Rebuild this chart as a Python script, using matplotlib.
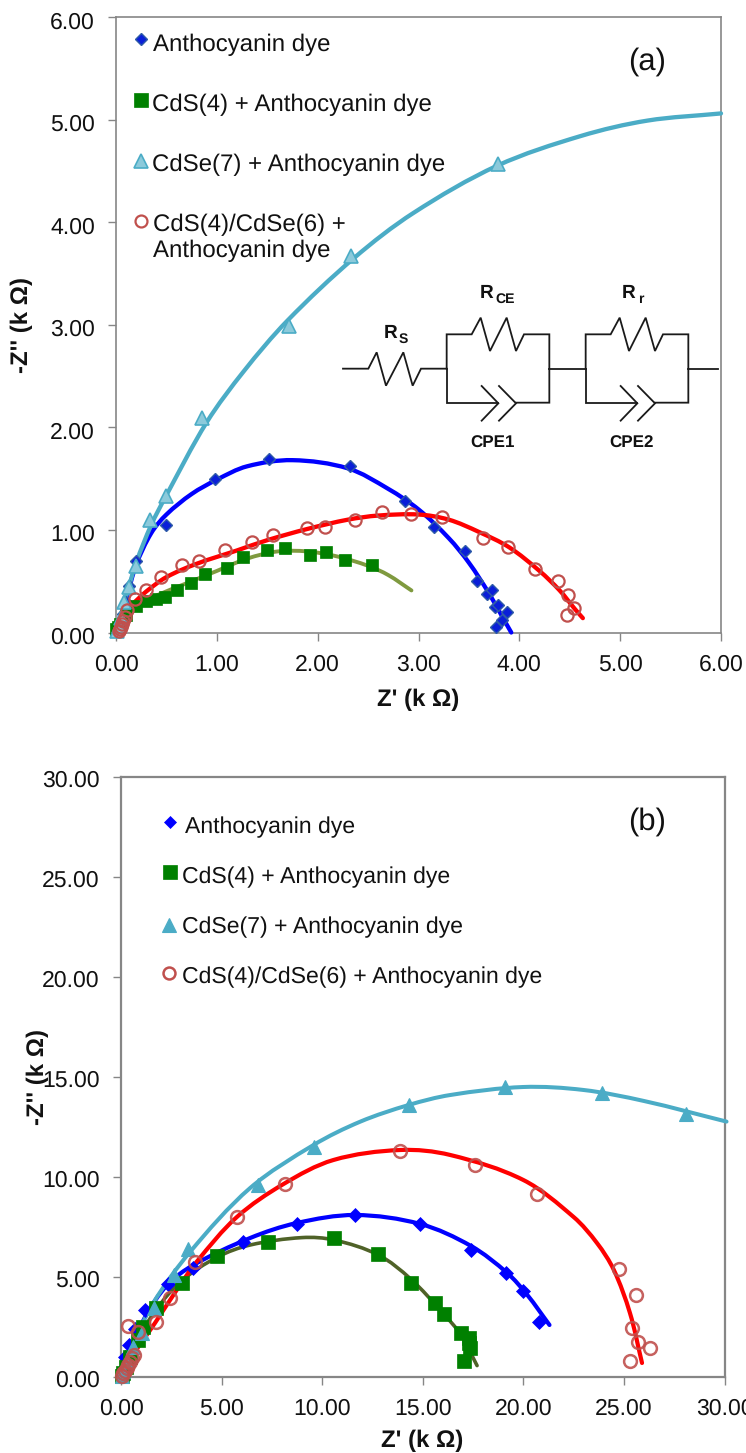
import math
import matplotlib
matplotlib.use("Agg")
import matplotlib.pyplot as plt
from matplotlib.path import Path
from matplotlib.patches import PathPatch
from matplotlib.transforms import ScaledTranslation

plt.rcParams['font.family'] = ['Liberation Sans', 'DejaVu Sans']
plt.rcParams['text.hinting'] = 'no_hinting'
plt.rcParams['text.hinting_factor'] = 1

W, H = 746, 1453
GRAY = '#868686'
BLUE = '#0000ff'
GREEN = '#008000'
CYAN = '#4bacc6'
RED = '#ff0000'
BRICK = '#c0504d'

# ---------- panel (a) markers ----------
a_blue_x = [0.02,0.04,0.07,0.10,0.13,0.20,0.50,0.98,1.52,2.32,2.87,3.15,3.46,3.58,3.68,3.73,3.76,3.79,3.88,3.83,3.77]
a_blue_y = [0.03,0.08,0.18,0.30,0.45,0.70,1.05,1.50,1.69,1.62,1.28,1.03,0.79,0.50,0.38,0.41,0.25,0.27,0.20,0.12,0.05]
a_green_x = [0.00,0.02,0.04,0.10,0.20,0.30,0.40,0.49,0.60,0.74,0.88,1.10,1.26,1.50,1.68,1.92,2.08,2.27,2.54]
a_green_y = [0.03,0.05,0.08,0.17,0.26,0.31,0.33,0.35,0.41,0.48,0.57,0.63,0.74,0.80,0.82,0.76,0.78,0.71,0.66]
a_cyan_x = [0.01,0.03,0.05,0.08,0.13,0.20,0.34,0.50,0.85,1.72,2.33,3.79]
a_cyan_y = [0.01,0.06,0.14,0.30,0.44,0.65,1.10,1.33,2.09,2.99,3.67,4.57]
a_red_x = [0.03,0.04,0.05,0.06,0.07,0.09,0.11,0.19,0.30,0.45,0.65,0.82,1.08,1.35,1.56,1.89,2.07,2.37,2.64,2.93,3.23,3.64,3.89,4.16,4.38,4.48,4.54,4.47]
a_red_y = [0.01,0.03,0.05,0.08,0.11,0.15,0.22,0.33,0.41,0.54,0.66,0.70,0.80,0.88,0.95,1.02,1.03,1.10,1.17,1.16,1.13,0.92,0.83,0.62,0.50,0.37,0.24,0.17]

# ---------- panel (a) fitted lines ----------
a_blue_lx = [0.00,0.10,0.20,0.35,0.50,0.75,1.00,1.30,1.75,2.30,2.70,3.00,3.30,3.50,3.70,3.85,3.92]
a_blue_ly = [0.00,0.32,0.66,0.97,1.15,1.35,1.49,1.62,1.68,1.60,1.40,1.20,0.92,0.68,0.38,0.12,0.00]
a_green_lx = [0.00,0.10,0.20,0.40,0.70,1.00,1.30,1.60,1.90,2.20,2.50,2.70,2.93]
a_green_ly = [0.00,0.16,0.26,0.36,0.48,0.60,0.72,0.79,0.79,0.74,0.65,0.56,0.41]
a_cyan_lx = [0.00,0.10,0.20,0.35,0.49,0.90,1.27,1.70,2.36,2.95,3.78,4.61,5.27,6.00]
a_cyan_ly = [0.00,0.35,0.68,1.05,1.32,2.05,2.55,3.04,3.65,4.09,4.55,4.84,4.99,5.06]
a_red_lx = [0.00,0.10,0.20,0.30,0.50,0.80,1.20,1.50,1.90,2.30,2.60,3.00,3.30,3.60,3.90,4.20,4.40,4.55,4.63]
a_red_ly = [0.00,0.22,0.31,0.40,0.54,0.67,0.80,0.90,1.01,1.10,1.14,1.15,1.10,0.98,0.83,0.60,0.41,0.23,0.14]

# ---------- panel (b) markers ----------
b_blue_x = [0.05,0.10,0.20,0.40,0.70,1.19,2.32,3.60,6.05,8.74,11.64,14.88,17.40,19.15,20.00,20.76]
b_blue_y = [0.10,0.40,1.00,1.60,2.40,3.35,4.65,5.45,6.75,7.65,8.10,7.65,6.35,5.20,4.30,2.77]
b_green_x = [0.03,0.10,0.25,0.45,0.86,1.11,1.72,3.05,4.76,7.30,10.60,12.80,14.43,15.60,16.05,16.90,17.30,17.36,17.30,17.04]
b_green_y = [0.03,0.20,0.50,1.00,1.85,2.50,3.45,4.70,6.05,6.75,6.95,6.15,4.70,3.70,3.15,2.20,1.95,1.45,1.70,0.80]
b_cyan_x = [0.03,0.12,0.30,0.60,1.03,1.66,2.65,3.32,6.83,9.60,14.30,19.10,23.90,28.10]
b_cyan_y = [0.03,0.30,0.80,1.50,2.20,3.45,5.10,6.40,9.60,11.50,13.60,14.50,14.20,13.15]
b_red_x = [0.03,0.10,0.18,0.28,0.37,0.45,0.55,0.66,0.33,0.86,1.72,2.44,3.68,5.76,8.16,13.85,17.60,20.70,24.75,25.60,25.40,25.70,26.30,25.30]
b_red_y = [0.03,0.20,0.32,0.45,0.60,0.77,0.95,1.10,2.57,2.27,2.77,3.95,5.75,8.00,9.65,11.30,10.60,9.15,5.40,4.10,2.45,1.77,1.43,0.80]

# ---------- panel (b) fitted lines ----------
b_blue_lx = [0.00,0.50,1.20,2.30,3.60,6.42,8.74,11.64,14.88,17.40,19.20,20.20,21.30]
b_blue_ly = [0.00,1.30,3.00,4.60,5.60,6.95,7.70,8.10,7.65,6.55,5.20,4.10,2.60]
b_green_lx = [0.00,0.50,1.70,3.00,4.80,6.42,9.00,10.60,12.80,14.40,16.00,16.90,17.70]
b_green_ly = [0.00,1.30,3.30,4.80,6.00,6.60,6.97,6.85,6.10,4.90,3.20,2.10,0.57]
b_cyan_lx = [0.00,0.60,1.60,3.43,6.42,9.57,11.90,14.30,16.37,20.00,23.00,26.00,30.10]
b_cyan_ly = [0.00,1.60,3.70,6.25,9.45,11.60,12.77,13.60,14.10,14.50,14.35,13.80,12.77]
b_red_lx = [0.00,0.60,1.69,2.77,3.77,5.76,8.08,10.56,13.88,16.37,20.00,22.50,23.66,24.50,25.30,25.90]
b_red_ly = [0.00,1.10,2.70,4.35,5.77,8.00,9.65,10.85,11.35,11.10,9.85,8.00,6.70,5.35,3.20,0.70]

a_ticks = [0, 1, 2, 3, 4, 5, 6]
b_ticks = [0, 5, 10, 15, 20, 25, 30]
labels = ['Anthocyanin dye', 'CdS(4) + Anthocyanin dye',
          'CdSe(7) + Anthocyanin dye', 'CdS(4)/CdSe(6) +\nAnthocyanin dye',
          'CdS(4)/CdSe(6) + Anthocyanin dye']


def smooth(ax, xs, ys, color, lw, z):
    """Smoothed line through the read points (screen-space tangents)."""
    to_px = ax.transData.transform
    pts = [tuple(to_px((x, y))) for x, y in zip(xs, ys)]
    verts, codes = [pts[0]], [Path.MOVETO]
    n = len(pts)

    def tangent(i):
        a, b = pts[max(i - 1, 0)], pts[min(i + 1, n - 1)]
        dx, dy = b[0] - a[0], b[1] - a[1]
        d = math.hypot(dx, dy) or 1.0
        return dx / d, dy / d

    for i in range(n - 1):
        p1, p2 = pts[i], pts[i + 1]
        h = math.hypot(p2[0] - p1[0], p2[1] - p1[1]) / 3
        t1, t2 = tangent(i), tangent(i + 1)
        verts += [(p1[0] + t1[0] * h, p1[1] + t1[1] * h),
                  (p2[0] - t2[0] * h, p2[1] - t2[1] * h), p2]
        codes += [Path.CURVE4] * 3
    ax.add_patch(PathPatch(Path(verts, codes), fc='none', ec=color, lw=lw,
                           capstyle='round', joinstyle='round', zorder=z,
                           clip_on=False, transform=None))


def make_axes(fig, l, r, t, b, ticks, spine_w, label_shift):
    ax = fig.add_axes([l / W, 1 - b / H, (r - l) / W, (b - t) / H])
    ax.set_xlim(ticks[0], ticks[-1])
    ax.set_ylim(ticks[0], ticks[-1])
    ax.set_xticks(ticks)
    ax.set_yticks(ticks)
    ax.set_xticklabels([f'{v:.2f}' for v in ticks])
    ax.set_yticklabels([f'{v:.2f}' for v in ticks])
    for s in ax.spines.values():
        s.set_color(GRAY)
        s.set_linewidth(spine_w)
    ax.tick_params(axis='both', direction='out', length=5.5, width=1.0, color=GRAY,
                   labelsize=16.5, labelcolor='#111111')
    ax.tick_params(axis='x', pad=10)
    ax.tick_params(axis='y', pad=9.7)
    shift = ScaledTranslation(0, -label_shift / 100, fig.dpi_scale_trans)
    for lab in ax.get_yticklabels():
        lab.set_transform(lab.get_transform() + shift)
    return ax


fig = plt.figure(figsize=(W / 100, H / 100), dpi=100, facecolor='white')

# ---------- panel (a) ----------
axa = make_axes(fig, 116, 721, 17, 632.5, a_ticks, 1.2, 3)
smooth(axa, a_blue_lx, a_blue_ly, BLUE, 3.1, 3)
smooth(axa, a_green_lx, a_green_ly, '#7f9a3f', 2.8, 3)
smooth(axa, a_cyan_lx, a_cyan_ly, CYAN, 3.1, 3)
smooth(axa, a_red_lx, a_red_ly, RED, 3.1, 3)
axa.plot(a_blue_x, a_blue_y, ls='', marker='D', ms=6.4, mfc='#0a1fd8', mec='#2f5ca8', mew=1.0, zorder=4, clip_on=False)
axa.plot(a_green_x, a_green_y, ls='', marker='s', ms=9.3, mfc=GREEN, mec=GREEN, mew=0.5, zorder=5, clip_on=False)
axa.plot(a_cyan_x, a_cyan_y, ls='', marker='^', ms=9.5, mfc='#8ccadb', mec=CYAN, mew=1.2, zorder=6, clip_on=False)
axa.plot(a_red_x, a_red_y, ls='', marker='o', ms=8.8, mfc='none', mec=BRICK, mew=1.6, zorder=7, clip_on=False)

# ---------- panel (b) ----------
axb = make_axes(fig, 121, 724.5, 777, 1377, b_ticks, 1.6, 1)
smooth(axb, b_blue_lx, b_blue_ly, BLUE, 3.0, 3)
smooth(axb, b_green_lx, b_green_ly, '#4f6228', 2.6, 3)
smooth(axb, b_cyan_lx, b_cyan_ly, CYAN, 2.9, 3)
smooth(axb, b_red_lx, b_red_ly, RED, 3.0, 3)
axb.plot(b_blue_x, b_blue_y, ls='', marker='D', ms=7, mfc=BLUE, mec=BLUE, mew=0.5, zorder=4, clip_on=False)
axb.plot(b_green_x, b_green_y, ls='', marker='s', ms=10, mfc=GREEN, mec=GREEN, mew=0.5, zorder=5, clip_on=False)
axb.plot(b_cyan_x, b_cyan_y, ls='', marker='^', ms=10.5, mfc=CYAN, mec=CYAN, mew=0.8, zorder=6, clip_on=False)
axb.plot(b_red_x, b_red_y, ls='', marker='o', ms=9.2, mfc='none', mec=BRICK, mew=1.8, alpha=0.9, zorder=7, clip_on=False)

# ---------- overlay in pixel coordinates: legends, labels, circuit ----------
ov = fig.add_axes([0, 0, 1, 1], facecolor='none')
ov.set_xlim(0, W)
ov.set_ylim(H, 0)
ov.axis('off')

TXT_A = dict(fontsize=17.1, color='#111111', va='center', ha='left')
TXT_B = dict(fontsize=16.85, color='#111111', va='center', ha='left')
BOLD = dict(fontweight='bold', color='#111111', ha='center', va='center')

ov.plot([141], [39], marker='D', ms=6.2, mfc='#0a1fd8', mec='#2f5ca8', mew=1.0)
ov.plot([141], [100], marker='s', ms=9.5, mfc=GREEN, mec=GREEN, mew=0.5)
ov.plot([141], [160.5], marker='^', ms=9.5, mfc='#8ccadb', mec=CYAN, mew=1.2)
ov.plot([141], [220.5], marker='o', ms=8.6, mfc='none', mec=BRICK, mew=1.6)
ov.text(153, 44.5, labels[0], **TXT_A)
ov.text(152, 104.5, labels[1], **TXT_A)
ov.text(152, 164.5, labels[2], **TXT_A)
ov.text(153, 238, labels[3], linespacing=1.2, **TXT_A)
ov.text(647, 62, '(a)', fontsize=22, color='#111111', ha='center', va='center')

ov.plot([170], [822], marker='D', ms=6.4, mfc=BLUE, mec=BLUE, mew=0.5)
ov.plot([170], [872], marker='s', ms=9.8, mfc=GREEN, mec=GREEN, mew=0.5)
ov.plot([169], [925], marker='^', ms=10, mfc=CYAN, mec=CYAN, mew=0.8)
ov.plot([169], [973], marker='o', ms=8.6, mfc='none', mec=BRICK, mew=1.8)
ov.text(185, 827.5, labels[0], **TXT_B)
ov.text(182, 877.5, labels[1], **TXT_B)
ov.text(182, 927.5, labels[2], **TXT_B)
ov.text(182, 977.5, labels[4], **TXT_B)
ov.text(647, 822, '(b)', fontsize=22, color='#111111', ha='center', va='center')

ov.text(418, 700, "Z' (k Ω)", fontsize=17, **BOLD)
ov.text(422, 1441, "Z' (k Ω)", fontsize=17, **BOLD)
ov.text(22, 325, "-Z'' (k Ω)", fontsize=17, rotation=90, **BOLD)
ov.text(38, 1077, "-Z'' (k Ω)", fontsize=17, rotation=90, **BOLD)

# circuit wiring, written in the coordinates of a 3x crop at (350, 270)
wires = [
    [(-21,296),(55,296),(80,247),(108,347),(160,247),(188,347),(213,296),(290,296)],
    [(290,296),(290,193),(365,193),(392,143),(420,243),(470,143),(498,243),(522,193),(598,193),(598,398),(498,398)],
    [(290,296),(290,398),(445,398)],
    [(395,348),(445,400),(395,452)],
    [(447,348),(498,400),(447,452)],
    [(598,296),(707,296)],
    [(707,296),(707,193),(782,193),(809,143),(837,243),(887,143),(915,243),(939,193),(1015,193),(1015,398),(915,398)],
    [(707,296),(707,398),(862,398)],
    [(812,348),(862,400),(812,452)],
    [(864,348),(915,400),(864,452)],
    [(1015,296),(1103,296)],
]
for w in wires:
    ov.plot([350 + p[0] / 3 for p in w], [270 + p[1] / 3 for p in w],
            color='#1a1a1a', lw=1.3, solid_joinstyle='miter')

ov.text(487, 293, 'R', fontsize=14, **BOLD)
ov.text(505, 299, 'CE', fontsize=10, **BOLD)
ov.text(629, 293, 'R', fontsize=14, **BOLD)
ov.text(641, 299, 'r', fontsize=10, **BOLD)
ov.text(391, 333, 'R', fontsize=14, **BOLD)
ov.text(403, 339, 'S', fontsize=10, **BOLD)
ov.text(493, 443, 'CPE1', fontsize=12, **BOLD)
ov.text(632, 443, 'CPE2', fontsize=12, **BOLD)

fig.savefig('out.png', dpi=100)
